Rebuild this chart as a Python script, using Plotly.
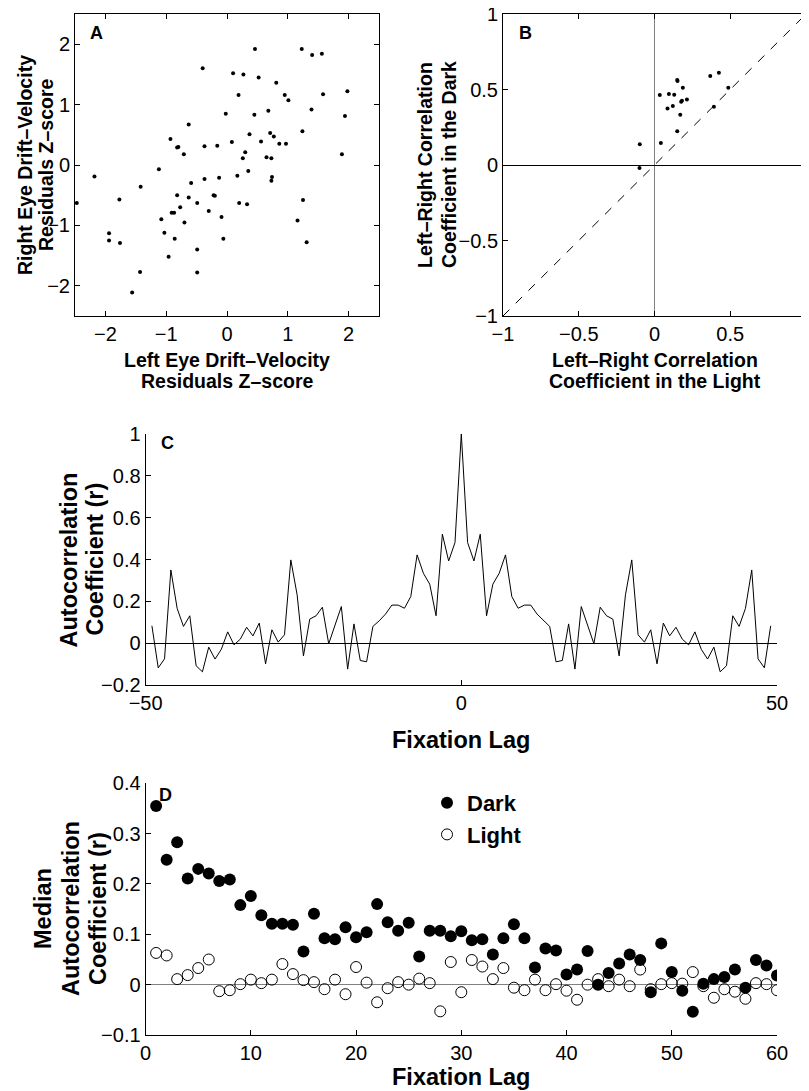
import plotly.graph_objects as go

W, H = 809, 1091
OFF = 8  # the page body adds an 8px margin around the plot div
FONT = "Liberation Sans, Arial, Helvetica, sans-serif"

# Panel A: z-scored drift-velocity residuals, left vs right eye
left_z = [-2.47, -2.18, -1.94, -1.94, -1.77, -1.76, -1.42, -1.43, -1.56, -1.12,
          -1.08, -1.03, -0.96, -0.93, -0.91, -0.87, -0.86, -0.82, -0.80, -0.82,
          -0.77, -0.71, -0.70, -0.63, -0.63, -0.59, -0.49, -0.49, -0.49, -0.40,
          -0.37, -0.37, -0.30, -0.22, -0.20, -0.16, -0.13, -0.09, -0.06, -0.02,
          0.08, 0.10, 0.17, 0.19, 0.20, 0.26, 0.27, 0.30, 0.33, 0.35,
          0.37, 0.45, 0.46, 0.52, 0.56, 0.65, 0.68, 0.71, 0.73, 0.74,
          0.73, 0.77, 0.81, 0.86, 0.95, 0.97, 1.01, 1.16, 1.23, 1.24,
          1.25, 1.31, 1.39, 1.40, 1.56, 1.58, 1.89, 1.94, 1.98]
right_z = [-0.63, -0.19, -1.13, -1.25, -0.57, -1.29, -0.36, -1.77, -2.11, -0.07,
           -0.90, -1.12, -1.52, 0.43, -0.79, -0.79, -1.22, 0.29, 0.30, -0.50,
           -0.70, 0.18, -0.95, 0.67, -0.54, -0.30, -0.63, -1.40, -1.78, 1.60,
           0.31, -0.23, -0.76, -0.50, -0.51, 0.32, -0.21, -0.86, -1.22, 0.85,
           0.38, 1.52, -0.18, 1.16, -0.63, 0.11, 1.50, 0.21, -0.65, -0.10,
           0.51, 0.83, 1.92, 1.45, 0.39, 0.13, 0.90, 0.53, 0.11, -0.20,
           -0.26, 0.47, 1.36, 0.35, 1.16, 0.35, 1.07, -0.92, 1.92, 0.56,
           -0.58, -1.28, 0.92, 1.82, 1.84, 1.17, 0.18, 0.81, 1.22]

# Panel B: left-right correlation per subject, light vs dark
light_r = [-0.097, -0.099, 0.035, 0.042, 0.086, 0.095, 0.121, 0.130, 0.150, 0.152,
           0.150, 0.170, 0.176, 0.181, 0.187, 0.214, 0.368, 0.392, 0.425, 0.487]
dark_r = [0.137, -0.020, 0.464, 0.146, 0.375, 0.470, 0.391, 0.466, 0.563, 0.556,
          0.223, 0.333, 0.419, 0.426, 0.512, 0.433, 0.589, 0.386, 0.611, 0.512]
unity = [-1, 1]

# Panel C: autocorrelation vs fixation lag
lags_c = list(range(-49, 50))
acf_c = [0.083, -0.118, -0.075, 0.350, 0.166, 0.080, 0.131, -0.108, -0.137, -0.019,
         -0.076, -0.029, 0.054, -0.008, 0.019, 0.076, 0.035, 0.096, -0.099, 0.064,
         0.005, 0.040, 0.398, 0.231, -0.061, 0.115, 0.131, 0.172, -0.003, 0.088,
         0.175, -0.124, 0.092, -0.083, -0.089, 0.080, 0.107, 0.139, 0.182, 0.182,
         0.167, 0.223, 0.422, 0.334, 0.282, 0.131, 0.521, 0.393, 0.481,
         1.000,
         0.481, 0.393, 0.521, 0.131, 0.282, 0.334, 0.422, 0.223, 0.167, 0.182,
         0.182, 0.139, 0.107, 0.080, -0.089, -0.083, 0.092, -0.124, 0.175, 0.088,
         -0.003, 0.172, 0.131, 0.115, -0.061, 0.231, 0.398, 0.040, 0.005, 0.064,
         -0.099, 0.096, 0.035, 0.076, 0.019, -0.008, 0.054, -0.029, -0.076, -0.019,
         -0.137, -0.108, 0.131, 0.080, 0.166, 0.350, -0.075, -0.118, 0.083]

# Panel D: median autocorrelation, dark vs light
lags_d = list(range(1, 61))
dark_med = [0.355, 0.248, 0.283, 0.211, 0.230, 0.221, 0.206, 0.209, 0.158, 0.176,
            0.138, 0.121, 0.121, 0.119, 0.066, 0.141, 0.092, 0.090, 0.114, 0.094,
            0.104, 0.160, 0.124, 0.107, 0.123, 0.056, 0.107, 0.107, 0.096, 0.106,
            0.088, 0.090, 0.060, 0.092, 0.120, 0.092, 0.034, 0.072, 0.068, 0.020,
            0.030, 0.067, 0.000, 0.023, 0.042, 0.060, 0.049, -0.015, 0.082, 0.025,
            -0.012, -0.054, 0.002, 0.011, 0.015, 0.030, -0.006, 0.049, 0.038, 0.018]
light_med = [0.063, 0.058, 0.011, 0.019, 0.033, 0.050, -0.013, -0.011, 0.001, 0.010,
             0.003, 0.010, 0.041, 0.021, 0.009, 0.005, -0.009, 0.010, -0.019, 0.035,
             0.004, -0.035, -0.007, 0.005, 0.000, 0.012, 0.003, -0.053, 0.045, -0.015,
             0.049, 0.036, 0.011, 0.033, -0.006, -0.011, 0.010, -0.011, 0.001, -0.012,
             -0.030, 0.000, 0.011, -0.003, 0.010, -0.003, 0.030, -0.009, 0.001, 0.003,
             0.002, 0.025, -0.003, -0.026, -0.009, -0.014, -0.028, 0.003, 0.001, -0.011]


def px_x(x):
    return (x - OFF) / W


def px_y(y):
    return 1 - (y - OFF) / H


def axis(fs=20, **kw):
    base = dict(showline=True, linecolor="black", linewidth=1, ticks="inside",
                ticklen=5, tickcolor="black", showgrid=False, zeroline=False,
                automargin=False, ticklabeloverflow="allow",
                tickfont=dict(family=FONT, size=fs, color="black"))
    base.update(kw)
    return base


fig = go.Figure()

fig.add_trace(go.Scatter(x=left_z, y=right_z, mode="markers", xaxis="x", yaxis="y",
                         marker=dict(size=4, color="black"), showlegend=False))

fig.add_trace(go.Scatter(x=unity, y=unity, mode="lines", xaxis="x2", yaxis="y2",
                         line=dict(color="black", width=1, dash="9px,9px"), showlegend=False))
fig.add_trace(go.Scatter(x=light_r, y=dark_r, mode="markers", xaxis="x2", yaxis="y2",
                         marker=dict(size=4, color="black"), showlegend=False))

fig.add_trace(go.Scatter(x=lags_c, y=acf_c, mode="lines", xaxis="x3", yaxis="y3",
                         line=dict(color="black", width=1), showlegend=False))

fig.add_trace(go.Scatter(x=lags_d, y=dark_med, mode="markers", xaxis="x4", yaxis="y4",
                         name="<b>Dark</b>", marker=dict(size=12, color="black")))
fig.add_trace(go.Scatter(x=lags_d, y=light_med, mode="markers", xaxis="x4", yaxis="y4",
                         name="<b>Light</b>",
                         marker=dict(size=11, color="black", symbol="circle-open",
                                     line=dict(width=1))))

fig.update_layout(
    template="none",
    width=W, height=H, margin=dict(l=0, r=0, t=0, b=0, autoexpand=False),
    paper_bgcolor="white", plot_bgcolor="white",
    font=dict(family=FONT, color="black"),
    xaxis=axis(domain=[px_x(75), px_x(379)], range=[-2.5, 2.5], dtick=1,
               mirror="ticks", anchor="y"),
    yaxis=axis(domain=[px_y(316), px_y(14)], range=[-2.5, 2.5], dtick=1,
               mirror="ticks", anchor="x"),
    xaxis2=axis(domain=[px_x(503), px_x(806)], range=[-1, 1], dtick=0.5,
                mirror="ticks", anchor="y2", zeroline=True,
                zerolinecolor="#808080", zerolinewidth=1),
    yaxis2=axis(domain=[px_y(316), px_y(14)], range=[-1, 1], dtick=0.5,
                mirror="ticks", anchor="x2", zeroline=True,
                zerolinecolor="black", zerolinewidth=1),
    xaxis3=axis(domain=[px_x(145.6), px_x(777)], range=[-50, 50],
                tickvals=[-50, 0, 50], anchor="y3"),
    yaxis3=axis(domain=[px_y(685), px_y(434)], range=[-0.2, 1], dtick=0.2,
                anchor="x3", zeroline=True, zerolinecolor="black", zerolinewidth=1),
    xaxis4=axis(domain=[px_x(145.6), px_x(777)], range=[0, 60], dtick=10,
                anchor="y4"),
    yaxis4=axis(domain=[px_y(1035), px_y(783.3)], range=[-0.1, 0.4], dtick=0.1,
                anchor="x4", zeroline=True, zerolinecolor="#808080", zerolinewidth=1),
    legend=dict(x=px_x(427), y=px_y(782), xanchor="left", yanchor="top",
                bgcolor="rgba(0,0,0,0)", font=dict(family=FONT, size=22, color="black"),
                tracegroupgap=0),
)

# axis titles and panel letters
notes = [
    ("Left Eye Drift\u2013Velocity", 227, 360, 0, 19.5),
    ("Residuals Z\u2013score", 227, 381, 0, 19.5),
    ("Left\u2013Right Correlation", 654.5, 360, 0, 19.5),
    ("Coefficient in the Light", 654.5, 381, 0, 19.5),
    ("Right Eye Drift\u2013Velocity", 25, 165, -90, 19.5),
    ("Residuals Z\u2013score", 46, 165, -90, 19.5),
    ("Left\u2013Right Correlation", 425, 165, -90, 19.5),
    ("Coefficient in the Dark", 449, 165, -90, 19.5),
    ("Autocorrelation", 68, 559.5, -90, 23.5),
    ("Coefficient (r)", 94, 559.5, -90, 23.5),
    ("Fixation Lag", 461, 740, 0, 23.5),
    ("Median", 43, 909, -90, 23.5),
    ("Autocorrelation", 71, 909, -90, 23.5),
    ("Coefficient (r)", 98, 909, -90, 23.5),
    ("Fixation Lag", 461, 1077, 0, 23.5),
]
for text, x, y, ang, fs in notes:
    fig.add_annotation(text="<b>" + text + "</b>", x=px_x(x), y=px_y(y),
                       xref="paper", yref="paper", showarrow=False, textangle=ang,
                       xanchor="center", yanchor="middle",
                       font=dict(family=FONT, size=fs, color="black"))

for text, x, y in [("A", 96, 33), ("B", 525, 33), ("C", 167, 443), ("D", 165, 795)]:
    fig.add_annotation(text="<b>" + text + "</b>", x=px_x(x), y=px_y(y),
                       xref="paper", yref="paper", showarrow=False,
                       xanchor="center", yanchor="middle",
                       font=dict(family=FONT, size=18, color="black"))

fig.write_html("out.html")
